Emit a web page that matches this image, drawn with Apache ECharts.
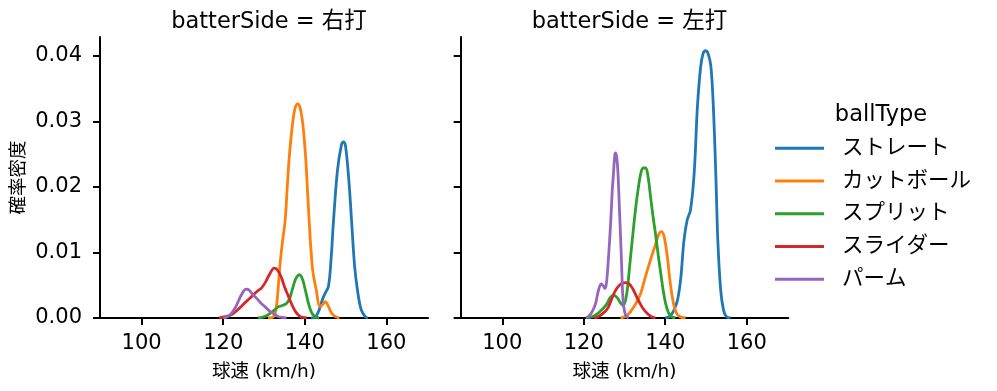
<!DOCTYPE html>
<html>
<head>
<meta charset="utf-8">
<script src="https://cdn.jsdelivr.net/npm/echarts@6/dist/echarts.min.js"></script>
<style>
html,body{margin:0;padding:0;background:#fff;}
#chart{width:997px;height:391px;}
</style>
</head>
<body>
<div id="chart"></div>
<script>
// ---- data ----
const ballTypes = ['ストレート', 'カットボール', 'スプリット', 'スライダー', 'パーム'];
const panelTitles = ['batterSide = 右打', 'batterSide = 左打'];
const xTicks = [100, 120, 140, 160];
const yTicks = [0, 0.01, 0.02, 0.03, 0.04];
const xLabel = '球速 (km/h)';
const yLabel = '確率密度';
const legendTitle = 'ballType';

// 右打
const R_straight = [[141.5,0],[142.5,0.0001],[143.5,0.0012],[144.3,0.0028],[145,0.0038],[145.8,0.0048],[146.5,0.0095],[147,0.0145],[148,0.0225],[149,0.0265],[149.5,0.0269],[150,0.0262],[150.8,0.021],[151.5,0.0145],[152.2,0.008],[152.9,0.0043],[153.8,0.0013],[154.8,0.0002],[155.5,0]];
const R_cutter = [[131,0],[132.3,0.0002],[132.9,0.0012],[133.4,0.0040],[133.9,0.0080],[134.5,0.0115],[135.2,0.0150],[135.7,0.020],[136.2,0.0246],[137,0.0297],[137.6,0.0320],[138.2,0.0327],[138.8,0.0322],[139.5,0.0297],[140.2,0.0246],[140.7,0.019],[141.1,0.0145],[141.5,0.0105],[142,0.007],[142.8,0.0043],[143.7,0.0018],[144.3,0.0020],[145,0.0025],[145.7,0.0019],[146.5,0.0008],[147.5,0.0002],[148.5,0]];
const R_split = [[128.5,0],[129.5,0.0001],[130.5,0.0003],[131.5,0.0007],[132.5,0.0012],[133.5,0.0017],[134.5,0.0019],[135.5,0.0022],[136.3,0.0030],[137,0.0045],[137.8,0.0060],[138.7,0.0066],[139.5,0.0058],[140.3,0.0038],[141,0.0020],[141.7,0.0008],[142.5,0.0002],[143.5,0]];
const R_slider = [[119,0],[120.5,0.0002],[122,0.0005],[123.3,0.0011],[124.5,0.0018],[125.8,0.0026],[127,0.0033],[128.2,0.0040],[129.4,0.0046],[130.3,0.0054],[131.3,0.0066],[132.5,0.0076],[133.3,0.0073],[134.2,0.0063],[135,0.0048],[136,0.0033],[137,0.0018],[137.8,0.0009],[138.7,0.0003],[139.5,0.0001],[140.5,0]];
const R_palm = [[120,0],[121,0.0002],[122,0.0007],[123,0.0016],[123.8,0.0027],[124.7,0.0038],[125.6,0.0044],[126.3,0.0043],[127.2,0.0036],[128.2,0.0030],[129.2,0.0023],[130.3,0.0017],[131.3,0.0011],[132.5,0.0006],[133.5,0.0002],[134.5,0.0001],[135.5,0]];

// 左打
const L_straight = [[140,0],[141,0.0002],[142,0.001],[143,0.0027],[143.8,0.006],[144.6,0.0119],[145.4,0.015],[146.2,0.0165],[147.1,0.0221],[147.9,0.0323],[148.7,0.0384],[149.3,0.0404],[149.9,0.0408],[150.5,0.0404],[151.2,0.0384],[151.8,0.0323],[152.4,0.0221],[152.9,0.0119],[153.6,0.0043],[154.3,0.0012],[155,0.0002],[156,0]];
const L_cutter = [[129,0],[130,0.0002],[131,0.0006],[132,0.0014],[133.2,0.0027],[134,0.0038],[135,0.006],[136.4,0.0089],[137.5,0.011],[138.5,0.0129],[139.1,0.0132],[139.7,0.0125],[140.5,0.0094],[141.1,0.006],[141.7,0.0033],[142.3,0.0015],[143,0.0005],[144,0.0001],[145,0]];
const L_split = [[121,0],[122.5,0.0003],[124,0.001],[125.5,0.002],[126.5,0.0031],[127.3,0.0035],[128.2,0.0031],[129,0.0023],[129.7,0.0019],[130.5,0.0035],[131.2,0.0075],[131.9,0.0119],[132.6,0.016],[133.2,0.019],[134,0.0221],[134.6,0.0229],[135.2,0.0229],[135.8,0.0215],[136.4,0.0185],[137,0.0155],[137.6,0.0129],[138.3,0.0095],[138.9,0.0068],[139.5,0.0042],[140.1,0.0022],[140.8,0.0008],[141.5,0.0002],[142.5,0]];
const L_slider = [[122.5,0],[123.5,0.0002],[124.5,0.0006],[125.8,0.0014],[126.8,0.0028],[127.6,0.0040],[128.6,0.0049],[129.5,0.0053],[130.3,0.0054],[131.1,0.0052],[131.9,0.0046],[132.7,0.0036],[133.5,0.0026],[134.5,0.0015],[135.6,0.0007],[136.6,0.0002],[137.6,0]];
const L_palm = [[120.5,0],[121.3,0.0003],[122.1,0.001],[122.9,0.0022],[123.6,0.0042],[124.3,0.0052],[124.8,0.0049],[125.2,0.0045],[125.6,0.0055],[126.1,0.0095],[126.6,0.0145],[127.0,0.0195],[127.3,0.0221],[127.6,0.0248],[127.8,0.0252],[128.1,0.0245],[128.4,0.0221],[128.7,0.0175],[129.0,0.0129],[129.3,0.0080],[129.5,0.0043],[129.8,0.0018],[130.3,0.0004],[131,0]];

const rightData = [R_straight, R_cutter, R_split, R_slider, R_palm];
const leftData = [L_straight, L_cutter, L_split, L_slider, L_palm];
const colors = ['#1f77b4', '#ff7f0e', '#2ca02c', '#d62728', '#9467bd'];

// ---- chart ----
const FONT = '"DejaVu Sans", "Noto Sans CJK JP", sans-serif';
const chart = echarts.init(document.getElementById('chart'));

const grids = [
  {left: 100, top: 37, width: 328, height: 281},
  {left: 460.7, top: 37, width: 327.6, height: 281}
];

function xAxisFor(i) {
  return {
    type: 'value', gridIndex: i, min: 89.8, max: 170.2,
    name: xLabel, nameLocation: 'middle', nameGap: 45,
    nameTextStyle: {fontFamily: FONT, fontSize: 18.5, color: '#000'},
    axisLine: {show: true, lineStyle: {color: '#000', width: 2}},
    axisTick: {show: true, length: 7, lineStyle: {color: '#000', width: 2}, customValues: xTicks},
    axisLabel: {show: true, color: '#000', fontFamily: FONT, fontSize: 21, margin: 15, customValues: xTicks},
    splitLine: {show: false}
  };
}
function yAxisFor(i) {
  return {
    type: 'value', gridIndex: i, min: 0, max: 0.0429,
    name: i === 0 ? yLabel : '', nameLocation: 'middle', nameGap: 72, nameRotate: 90,
    nameTextStyle: {fontFamily: FONT, fontSize: 18.5, color: '#000'},
    axisLine: {show: true, lineStyle: {color: '#000', width: 2}},
    axisTick: {show: true, length: 7, lineStyle: {color: '#000', width: 2}, customValues: yTicks},
    axisLabel: {show: i === 0, color: '#000', fontFamily: FONT, fontSize: 21, margin: 18,
      customValues: yTicks, formatter: v => v.toFixed(2)},
    splitLine: {show: false}
  };
}

const series = [];
[rightData, leftData].forEach((panel, gi) => {
  panel.forEach((d, k) => {
    series.push({
      type: 'line', name: ballTypes[k], xAxisIndex: gi, yAxisIndex: gi,
      data: d, showSymbol: false, smooth: 0.35,
      lineStyle: {color: colors[k], width: 2.8},
      itemStyle: {color: colors[k]},
      emphasis: {disabled: true}
    });
  });
});

chart.setOption({
  animation: false,
  backgroundColor: '#fff',
  title: [
    {text: panelTitles[0], left: 264, top: 6, textAlign: 'center',
      textStyle: {fontFamily: FONT, fontSize: 22.5, fontWeight: 'normal', color: '#000'}},
    {text: panelTitles[1], left: 624.5, top: 6, textAlign: 'center',
      textStyle: {fontFamily: FONT, fontSize: 22.5, fontWeight: 'normal', color: '#000'}},
    {text: legendTitle, left: 876, top: 99, textAlign: 'center',
      textStyle: {fontFamily: FONT, fontSize: 22.5, fontWeight: 'normal', color: '#000'}}
  ],
  grid: grids,
  xAxis: [xAxisFor(0), xAxisFor(1)],
  yAxis: [yAxisFor(0), yAxisFor(1)],
  legend: {
    data: ballTypes.map((n, k) => ({name: n, icon: 'rect', itemStyle: {color: colors[k]}})),
    orient: 'vertical', left: 775, top: 132, padding: 0,
    itemWidth: 49, itemHeight: 3, itemGap: 0,
    textStyle: {fontFamily: FONT, fontSize: 21.5, color: '#000', lineHeight: 32.7, padding: [0,0,0,13]},
    selectedMode: false
  },
  series: series
});
</script>
</body>
</html>
